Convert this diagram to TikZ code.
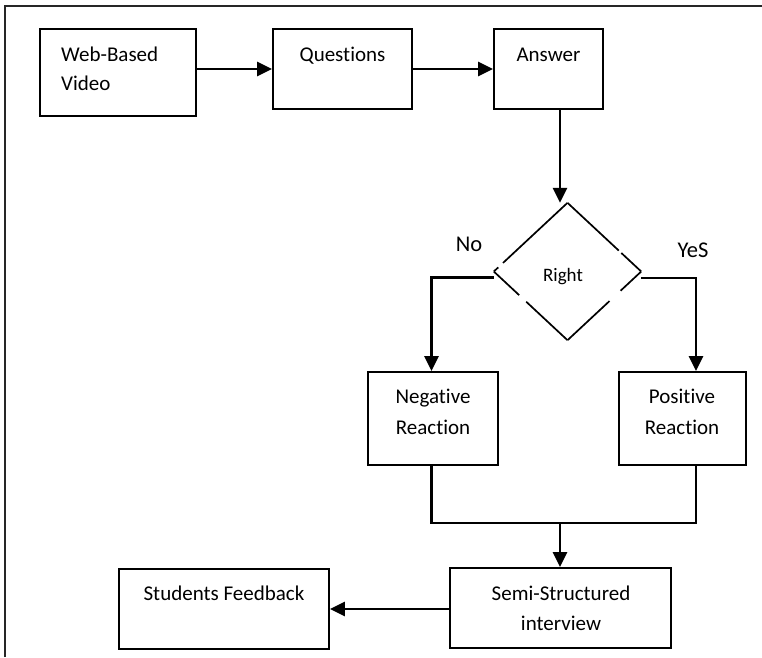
\documentclass[tikz,border=0pt]{standalone}
\usepackage{fontspec}
\setmainfont[Ligatures=NoCommon]{Carlito}
\usetikzlibrary{arrows.meta,calc,shapes.geometric}
\tikzset{
  box/.style={draw,line width=1.8pt,inner sep=0pt,rectangle},
  txt/.style={inner sep=0pt,anchor=base,font=\fontsize{21}{29}\selectfont},
  conn/.style={line width=2.9pt},
  arr/.style={conn,-{Triangle[length=15pt,width=14pt]}},
  dedge/.style={line width=1.7pt},
}
\begin{document}
\begin{tikzpicture}[x=1pt,y=-1pt]
\useasboundingbox (0,0) rectangle (762,657);
% frame
\coordinate (fbl) at (5,657);
\coordinate (ftl) at (5,6);
\coordinate (ftr) at (762,6);
\draw[line width=2pt,black!85] (fbl) -- (ftl) -- (ftr);
% boxes
\node[box,minimum width=156pt,minimum height=87pt] (web) at (118,72.5) {};
\node[box,minimum width=139pt,minimum height=80pt] (ques) at (342.5,69) {};
\node[box,minimum width=109pt,minimum height=80pt] (ans) at (548.5,69) {};
\node[diamond,draw=none,inner sep=0pt,minimum width=147pt,minimum height=137pt] (dia) at (567.5,271.5) {};
\node[box,minimum width=130pt,minimum height=93pt] (neg) at (433,418.5) {};
\node[box,minimum width=127pt,minimum height=93pt] (pos) at (682.5,418.5) {};
\node[box,minimum width=221pt,minimum height=80pt] (semi) at (560.5,608) {};
\node[box,minimum width=210pt,minimum height=80pt] (stu) at (224,609) {};
% diamond edges with gaps
\draw[dedge] (dia.north) -- ($(dia.north)!0.875!(dia.west)$);
\draw[dedge] ($(dia.north)!0.94!(dia.west)$) -- (dia.west);
\draw[dedge] (dia.west) -- ($(dia.west)!0.345!(dia.south)$);
\draw[dedge] ($(dia.west)!0.44!(dia.south)$) -- (dia.south);
\draw[dedge] (dia.north) -- ($(dia.north)!0.695!(dia.east)$);
\draw[dedge] ($(dia.north)!0.73!(dia.east)$) -- (dia.east);
\draw[dedge] (dia.east) -- ($(dia.east)!0.28!(dia.south)$);
\draw[dedge] ($(dia.east)!0.43!(dia.south)$) -- (dia.south);
% texts
\node[txt,anchor=base west] (tweb1) at (61,61) {Web-Based};
\node[txt,anchor=base west] (tweb2) at (61,90) {Video};
\node[txt] (tques) at (342.5,61) {Questions};
\node[txt] (tans) at (548.5,61) {Answer};
\node[txt,font=\fontsize{19}{24}\selectfont] (tright) at (563,281) {Right};
\node[txt,font=\fontsize{22.5}{28}\selectfont] (tno) at (469,251) {No};
\node[txt,font=\fontsize{22.5}{28}\selectfont] (tyes) at (693,257) {YeS};
\node[txt] (tneg1) at (433,403.5) {Negative};
\node[txt] (tneg2) at (433,434.5) {Reaction};
\node[txt] (tpos1) at (682,403.5) {Positive};
\node[txt] (tpos2) at (682,434.5) {Reaction};
\node[txt] (tsemi1) at (561,600.5) {Semi-Structured};
\node[txt] (tsemi2) at (561,630) {interview};
\node[txt] (tstu) at (224,600) {Students Feedback};
% connectors
\draw[arr] (web.east |- ques.west) -- (ques.west);
\draw[arr] (ques.east) -- (ans.west);
\draw[arr] ([xshift=11.5pt]ans.south) -- ([xshift=11.5pt]ans.south |- dia.north);
\draw[arr] ([yshift=-6pt]dia.west) -| ([xshift=-1.5pt]neg.north);
\draw[arr] ([yshift=-6.5pt]dia.east) -| ([xshift=13.5pt]pos.north);
\coordinate (merge) at (560,523);
\draw[conn] ([xshift=-1.5pt]neg.south) |- (merge) -| ([xshift=13.5pt]pos.south);
\draw[arr] (merge) -- (merge |- semi.north);
\draw[arr] ([yshift=-1pt]semi.west) -- ([yshift=-1pt]semi.west -| stu.east);
\end{tikzpicture}
\end{document}
